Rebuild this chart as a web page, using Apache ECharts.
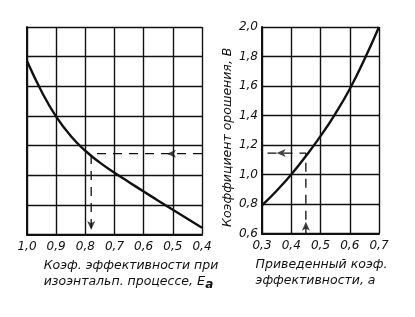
<!DOCTYPE html>
<html>
<head>
<meta charset="utf-8">
<script src="https://cdn.jsdelivr.net/npm/echarts@6/dist/echarts.min.js"></script>
<style>html,body{margin:0;padding:0;background:#fff}#c{width:415px;height:317px}</style>
</head>
<body>
<div id="c"></div>
<script>
// Left chart: isentropic efficiency E_a -> B
const leftE = [1.0, 0.95, 0.9, 0.85, 0.8, 0.75, 0.7, 0.65, 0.6, 0.55, 0.5, 0.45, 0.4];
const leftB = [1.77, 1.565, 1.395, 1.265, 1.165, 1.085, 1.017, 0.953, 0.89, 0.828, 0.767, 0.706, 0.645];
// Right chart: reduced efficiency a -> B
const rightA = [0.3, 0.35, 0.4, 0.45, 0.5, 0.55, 0.6, 0.65, 0.7];
const rightB = [0.79, 0.89, 1.0, 1.125, 1.26, 1.41, 1.58, 1.78, 2.0];
// Worked example guide
const guideA = 0.45, guideB = 1.145, guideE = 0.78;
const gapStartA = 0.1;          // guide continues across the gap between panels
const leftArrowX = [0.52];      // left-pointing arrow on left panel guide
const rightArrowX = [0.35];     // left-pointing arrow on right panel guide
const downArrowB = [0.63];
const upArrowB = [0.68];
// Ticks
const leftTicks = {min: 0.4, max: 1.0, interval: 0.1};
const rightTicks = {min: 0.3, max: 0.7, interval: 0.1};
const yTicks = {min: 0.6, max: 2.0, interval: 0.2};
const xNameLeft = ['Коэф. эффективности при', 'изоэнтальп. процессе, '];
const xNameRight = ['Приведенный коэф.', 'эффективности, a'];
const yName = 'Коэффициент орошения, B';

const FONT = 'DejaVu Sans';
const fmt = v => v.toFixed(1).replace('.', ',');
const axisLine = {show: true, lineStyle: {color: '#111', width: 2}};
const split = {show: true, lineStyle: {color: '#111', width: 1.4}};
const lbl = {fontFamily: FONT, fontStyle: 'italic', fontSize: 12, color: '#111'};

const chart = echarts.init(document.getElementById('c'), null, {renderer: 'canvas'});
const dash = {color: '#111', width: 1.3, type: [9, 7]};
const arrowSym = {type: 'scatter', symbol: 'arrow', symbolSize: [6, 9], itemStyle: {color: '#111'}, silent: true, z: 5};

chart.setOption({
  backgroundColor: '#fff',
  animation: false,
  grid: [
    {left: 27, top: 27, width: 175, height: 207.5},
    {left: 262, top: 27, width: 117, height: 206.5}
  ],
  xAxis: [
    {gridIndex: 0, type: 'value', inverse: true, min: leftTicks.min, max: leftTicks.max, interval: leftTicks.interval,
     axisLine: axisLine, axisTick: {show: false}, splitLine: split,
     axisLabel: Object.assign({formatter: fmt, margin: 6}, lbl),
     name: '{a|' + xNameLeft[0] + '}\n{a|' + xNameLeft[1] + '}{e|E}{s|a}',
     nameLocation: 'middle', nameGap: 23,
     nameTextStyle: {fontFamily: FONT, fontStyle: 'italic', fontSize: 12.5, color: '#111', lineHeight: 16, padding: [0, 0, 0, 33],
       rich: {a: {align: 'left', fontFamily: FONT, fontStyle: 'italic', fontSize: 12.5, color: '#111', lineHeight: 16},
              e: {align: 'left', fontFamily: FONT, fontStyle: 'italic', fontSize: 13, color: '#111', lineHeight: 16},
              s: {align: 'left', fontFamily: FONT, fontStyle: 'italic', fontWeight: 'bold', fontSize: 12, color: '#111', lineHeight: 16, padding: [7, 0, 0, 0]}}}},
    {gridIndex: 1, type: 'value', min: rightTicks.min, max: rightTicks.max, interval: rightTicks.interval,
     axisLine: axisLine, axisTick: {show: false}, splitLine: split,
     axisLabel: Object.assign({formatter: fmt, margin: 6}, lbl),
     name: '{a|' + xNameRight[0] + '}\n{a|' + xNameRight[1] + '}',
     nameLocation: 'middle', nameGap: 23,
     nameTextStyle: {fontFamily: FONT, fontStyle: 'italic', fontSize: 12.5, color: '#111', lineHeight: 16, padding: [0, 0, 0, 2],
       rich: {a: {align: 'left', fontFamily: FONT, fontStyle: 'italic', fontSize: 12.5, color: '#111', lineHeight: 16}}}}
  ],
  yAxis: [
    {gridIndex: 0, type: 'value', min: yTicks.min, max: yTicks.max, interval: yTicks.interval,
     axisLine: axisLine, axisTick: {show: false}, splitLine: split, axisLabel: {show: false}},
    {gridIndex: 1, type: 'value', min: yTicks.min, max: yTicks.max, interval: yTicks.interval,
     axisLine: axisLine, axisTick: {show: false}, splitLine: split,
     axisLabel: Object.assign({formatter: fmt, margin: 4}, lbl),
     name: yName, nameLocation: 'middle', nameGap: 28, nameRotate: 90,
     nameTextStyle: {fontFamily: FONT, fontStyle: 'italic', fontSize: 12.5, color: '#111', padding: [0, 14, 0, 0]}}
  ],
  series: [
    {type: 'line', xAxisIndex: 0, yAxisIndex: 0, smooth: 0.5, symbol: 'none',
     lineStyle: {color: '#111', width: 2.4}, data: leftE.map((e, i) => [e, leftB[i]]), z: 4},
    {type: 'line', xAxisIndex: 1, yAxisIndex: 1, smooth: 0.5, symbol: 'none',
     lineStyle: {color: '#111', width: 2.4}, data: rightA.map((a, i) => [a, rightB[i]]), z: 4},
    // guides - left panel
    {type: 'line', xAxisIndex: 0, yAxisIndex: 0, symbol: 'none', lineStyle: dash,
     data: [[leftTicks.min, guideB], [guideE, guideB], [guideE, yTicks.min]]},
    // guides - right panel (continuing across the gap)
    {type: 'line', xAxisIndex: 1, yAxisIndex: 1, symbol: 'none', clip: false, lineStyle: dash,
     data: [[gapStartA, guideB], [guideA, guideB], [guideA, yTicks.min]]},
    Object.assign({xAxisIndex: 0, yAxisIndex: 0, symbolRotate: 90, data: leftArrowX.map(x => [x, guideB])}, arrowSym),
    Object.assign({xAxisIndex: 1, yAxisIndex: 1, symbolRotate: 90, data: rightArrowX.map(x => [x, guideB])}, arrowSym),
    Object.assign({xAxisIndex: 0, yAxisIndex: 0, symbolRotate: 180, data: downArrowB.map(b => [guideE, b])}, arrowSym),
    Object.assign({xAxisIndex: 1, yAxisIndex: 1, symbolRotate: 0, data: upArrowB.map(b => [guideA, b])}, arrowSym)
  ]
});
</script>
</body>
</html>
